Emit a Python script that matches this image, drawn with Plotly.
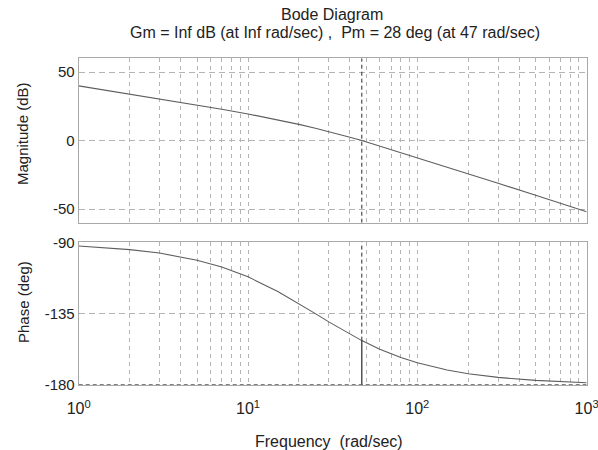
import plotly.graph_objects as go

# ---- data ----
freq = [1, 1.5, 2, 3, 4, 5, 7, 10, 15, 20, 25, 30, 40, 47, 60, 80, 100,
        150, 200, 300, 500, 700, 1000]
mag_db = [39.9, 36.4, 33.9, 30.4, 27.8, 25.8, 22.8, 19.4, 15.1, 11.8, 9.0,
          6.6, 2.4, 0.0, -4.1, -8.6, -12.3, -19.2, -24.2, -31.2, -40.0,
          -45.9, -52.0]
phase_deg = [-92.3, -93.4, -94.6, -96.8, -99.1, -101.3, -105.6, -111.8,
             -121.0, -128.7, -135.0, -140.2, -148.0, -152.0, -157.4, -162.6,
             -166.0, -170.5, -172.9, -175.2, -177.1, -178.0, -178.6]

wc = 47          # gain crossover frequency (rad/sec)
pm = 28          # phase margin (deg)

mag_ticks = [-50, 0, 50]
phase_ticks = [-180, -135, -90]
decades = [1, 10, 100, 1000]
decade_labels = ["10<sup>0</sup>", "10<sup>1</sup>", "10<sup>2</sup>", "10<sup>3</sup>"]

mag_range = [-60, 60]
phase_range = [-180, -90]

# grid positions (1..9 x 10^k)
grid_vals = []
grid_text = []
for d in decades[:-1]:
    for m in range(1, 10):
        grid_vals.append(d * m)
        grid_text.append(decade_labels[decades.index(d)] if m == 1 else "")
grid_vals.append(decades[-1])
grid_text.append(decade_labels[-1])

FONT = "Liberation Sans, Arial, sans-serif"
GRID = "#b4b4b4"
FRAME = "#a8a8a8"
CURVE = "#5e5e5e"
MARK = "#2a2a2a"
TXT = "#222222"

fig = go.Figure()

fig.add_trace(go.Scatter(x=freq, y=mag_db, mode="lines",
                         line=dict(color=CURVE, width=1.1),
                         xaxis="x", yaxis="y", showlegend=False))
fig.add_trace(go.Scatter(x=freq, y=phase_deg, mode="lines",
                         line=dict(color=CURVE, width=1.1),
                         xaxis="x2", yaxis="y2", showlegend=False))

# margin markers
fig.add_trace(go.Scatter(x=[wc, wc], y=mag_range, mode="lines",
                         line=dict(color=MARK, width=1, dash="4px,3px"),
                         xaxis="x", yaxis="y", showlegend=False))
fig.add_trace(go.Scatter(x=[wc, wc], y=[-180 + pm, phase_range[1]], mode="lines",
                         line=dict(color=MARK, width=1, dash="4px,3px"),
                         xaxis="x2", yaxis="y2", showlegend=False))
fig.add_trace(go.Scatter(x=[wc, wc], y=[-180, -180 + pm], mode="lines",
                         line=dict(color=MARK, width=1.2),
                         xaxis="x2", yaxis="y2", showlegend=False))
fig.add_trace(go.Scatter(x=[decades[0], decades[-1]], y=[-180, -180], mode="lines",
                         line=dict(color="#555555", width=1.5, dash="4px,3px"),
                         xaxis="x2", yaxis="y2", showlegend=False, cliponaxis=False))

xdom = [0.1316, 0.981]
common_x = dict(type="log", range=[-0.0002, 3.0002], domain=xdom,
                tickmode="array", tickvals=grid_vals,
                showgrid=True, gridcolor=GRID, gridwidth=1, griddash="4px,4px",
                showline=True, linecolor=FRAME, linewidth=1, mirror=True,
                ticks="", zeroline=False, automargin=False,
                ticklabeloverflow="allow", ticklabelstandoff=9,
                tickfont=dict(family=FONT, size=16, color=TXT))

ycommon = dict(tickmode="array", showgrid=True, gridcolor=GRID, gridwidth=1,
               griddash="6px,4px", showline=True, linecolor=FRAME, linewidth=1,
               mirror=True, ticks="", zeroline=False, automargin=False,
               tickfont=dict(family=FONT, size=15, color=TXT))

fig.update_layout(
    width=598, height=450,
    margin=dict(l=0, r=0, t=0, b=0),
    paper_bgcolor="white", plot_bgcolor="white",
    xaxis=dict(common_x, anchor="y", ticktext=[""] * len(grid_vals),
               showticklabels=False),
    xaxis2=dict(common_x, anchor="y2", ticktext=grid_text, matches="x"),
    yaxis=dict(ycommon, domain=[0.5051, 0.8704], range=mag_range, anchor="x",
               tickvals=mag_ticks, ticktext=[str(v) for v in mag_ticks]),
    yaxis2=dict(ycommon, domain=[0.1444, 0.4616], range=phase_range, anchor="x2",
                tickvals=phase_ticks, ticktext=[str(v) for v in phase_ticks]),
    font=dict(family=FONT, color=TXT),
)

ann = dict(xref="paper", yref="paper", showarrow=False,
           xanchor="center", yanchor="middle",
           font=dict(family=FONT, size=16, color=TXT))
fig.add_annotation(ann, x=331.5 / 598, y=1 - 15 / 450, text="Bode Diagram")
fig.add_annotation(ann, x=335 / 598, y=1 - 32 / 450,
                   text="Gm = Inf dB (at Inf rad/sec) ,&nbsp; Pm = 28 deg (at 47 rad/sec)")
fig.add_annotation(ann, x=23 / 598, y=1 - 134 / 450, text="Magnitude (dB)",
                   textangle=-90, font=dict(family=FONT, size=15, color=TXT))
fig.add_annotation(ann, x=23 / 598, y=1 - 302 / 450, text="Phase (deg)",
                   textangle=-90, font=dict(family=FONT, size=15, color=TXT))
fig.add_annotation(ann, x=329 / 598, y=1 - 441 / 450,
                   text="Frequency&nbsp; (rad/sec)")

fig.write_html("out.html")
